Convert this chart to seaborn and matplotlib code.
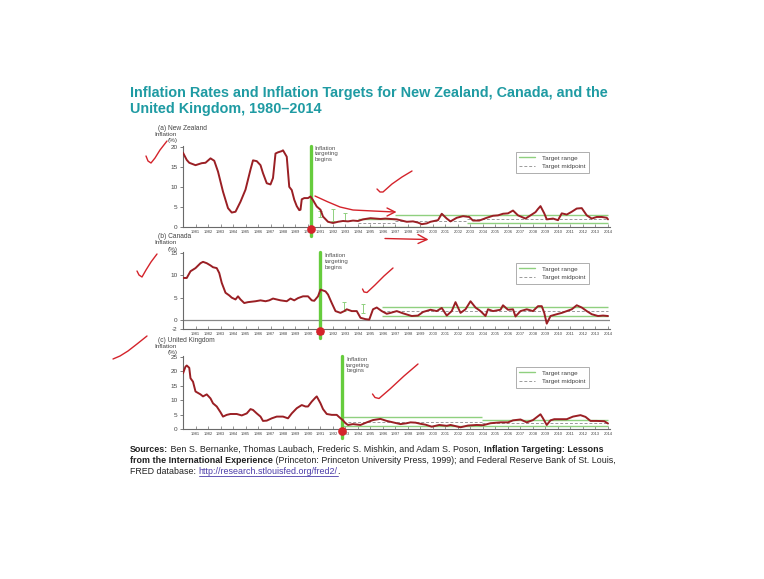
import numpy as np
import pandas as pd
import matplotlib
matplotlib.use("Agg")
import matplotlib.pyplot as plt
import seaborn as sns
from matplotlib.lines import Line2D

sns.set_theme(style="white")
plt.rcParams['font.family'] = ['Liberation Sans', 'DejaVu Sans']

# ---------------- data ----------------
nz_year = [1980.0, 1980.3, 1980.5, 1981.0, 1981.5, 1981.8, 1982.2, 1982.5, 1982.8, 1983.2,
           1983.6, 1983.9, 1984.2, 1984.6, 1985.0, 1985.4, 1985.6, 1985.9, 1986.2, 1986.4,
           1986.7, 1987.0, 1987.2, 1987.4, 1987.6, 1987.9, 1988.0, 1988.3, 1988.5, 1988.7,
           1988.9, 1989.1, 1989.3, 1989.4, 1989.5, 1989.7, 1990.0, 1990.2, 1990.4, 1990.7,
           1991.0, 1991.2, 1991.6, 1992.0, 1992.4, 1992.8, 1993.2, 1993.6, 1994.0, 1994.4,
           1995.0, 1995.4, 1995.8, 1996.2, 1996.6, 1997.1, 1997.5, 1997.9, 1998.4, 1998.8,
           1999.1, 1999.5, 1999.8, 2000.4, 2000.7, 2001.1, 2001.4, 2001.9, 2002.4, 2002.9,
           2003.2, 2003.7, 2004.3, 2004.8, 2005.2, 2005.6, 2006.0, 2006.4, 2006.8, 2007.4,
           2007.8, 2008.2, 2008.4, 2008.6, 2008.9, 2009.1, 2009.6, 2010.0, 2010.3, 2010.7,
           2011.1, 2011.5, 2011.9, 2012.3, 2012.7, 2013.1, 2013.5, 2013.9, 2014.0]
nz_infl = [18.5, 16.7, 16.0, 15.4, 15.9, 16.0, 17.1, 16.5, 13.8, 8.8,
           4.7, 3.6, 3.8, 6.3, 9.3, 14.3, 16.6, 16.4, 15.4, 13.4,
           10.9, 10.6, 12.2, 18.3, 18.6, 18.9, 19.1, 17.5, 10.0, 9.2,
           6.8, 5.2, 4.2, 4.3, 6.9, 7.2, 7.2, 7.6, 6.7, 5.1,
           4.3, 2.6, 1.3, 1.0, 1.3, 1.5, 1.4, 1.6, 1.5, 1.9,
           2.2, 2.1, 2.0, 2.1, 2.0, 1.9, 1.6, 1.3, 1.4, 1.1,
           0.7, 0.9, 1.3, 1.7, 3.3, 2.1, 1.4, 2.3, 2.7, 2.5,
           1.6, 1.6, 2.3, 2.8, 2.9, 3.3, 3.4, 4.1, 2.9, 2.1,
           2.9, 3.7, 4.5, 5.2, 3.4, 1.9, 2.1, 1.7, 3.4, 3.1,
           3.8, 4.6, 4.7, 2.9, 2.1, 2.5, 2.5, 2.3, 1.9]

ca_year = [1980.0, 1980.3, 1980.6, 1981.0, 1981.4, 1981.6, 1981.9, 1982.2, 1982.4, 1982.7,
           1982.9, 1983.1, 1983.4, 1983.7, 1983.9, 1984.2, 1984.4, 1984.6, 1984.9, 1985.2,
           1985.8, 1986.2, 1986.6, 1986.9, 1987.2, 1987.8, 1988.3, 1988.6, 1988.9, 1989.2,
           1989.6, 1990.0, 1990.3, 1990.5, 1990.8, 1991.0, 1991.4, 1991.6, 1991.9, 1992.2,
           1992.6, 1992.9, 1993.1, 1993.5, 1993.9, 1994.2, 1994.6, 1994.9, 1995.2, 1995.5,
           1995.9, 1996.3, 1996.6, 1997.1, 1997.6, 1998.3, 1998.8, 1999.2, 1999.8, 2000.3,
           2000.7, 2001.1, 2001.5, 2001.8, 2002.2, 2002.6, 2003.0, 2003.4, 2003.8, 2004.2,
           2004.4, 2004.8, 2005.4, 2005.6, 2006.0, 2006.4, 2006.6, 2007.0, 2007.5, 2008.0,
           2008.4, 2008.7, 2008.9, 2009.1, 2009.4, 2009.9, 2010.3, 2010.7, 2011.1, 2011.5,
           2011.9, 2012.3, 2012.7, 2013.2, 2013.6, 2014.0]
ca_infl = [9.4, 9.4, 10.9, 11.6, 12.7, 13.0, 12.7, 12.2, 11.8, 11.6,
           10.5, 8.3, 6.1, 5.5, 5.0, 4.6, 5.3, 4.6, 3.8, 4.0,
           4.2, 4.4, 4.2, 4.4, 4.8, 4.4, 4.2, 4.8, 4.4, 4.9,
           5.3, 5.3, 4.4, 4.3, 5.3, 6.8, 6.4, 5.7, 3.8, 2.0,
           1.6, 2.0, 2.4, 2.0, 2.0, 0.5, 0.2, 0.1, 2.4, 2.8,
           2.0, 1.4, 1.6, 2.0, 1.5, 0.9, 1.0, 1.8, 2.3, 2.0,
           2.7, 1.0, 2.0, 4.0, 1.6, 2.4, 4.2, 2.8, 2.0, 0.9,
           2.4, 2.0, 2.3, 3.3, 2.3, 2.4, 0.8, 2.0, 2.4, 2.0,
           3.1, 3.1, 1.6, -0.8, 0.9, 1.3, 1.6, 2.0, 2.4, 3.3,
           2.8, 2.0, 1.3, 0.9, 1.0, 0.9]

uk_year = [1980.0, 1980.2, 1980.3, 1980.5, 1980.6, 1980.8, 1981.0, 1981.4, 1981.6, 1981.9,
           1982.2, 1982.4, 1982.7, 1983.0, 1983.2, 1983.5, 1983.8, 1984.3, 1984.7, 1985.1,
           1985.4, 1985.6, 1985.9, 1986.2, 1986.4, 1986.7, 1987.1, 1987.5, 1988.0, 1988.4,
           1988.7, 1989.1, 1989.5, 1989.8, 1990.0, 1990.3, 1990.6, 1990.7, 1991.0, 1991.2,
           1991.5, 1991.9, 1992.3, 1992.5, 1992.8, 1993.0, 1993.2, 1993.6, 1994.2, 1994.7,
           1995.2, 1995.8, 1996.3, 1996.8, 1997.4, 1997.9, 1998.2, 1998.6, 1999.0, 1999.4,
           1999.9, 2000.5, 2001.1, 2001.4, 2002.2, 2002.8, 2003.5, 2004.0, 2004.6, 2005.4,
           2006.0, 2006.4, 2007.0, 2007.5, 2008.0, 2008.6, 2008.8, 2009.1, 2009.4, 2009.7,
           2010.2, 2010.7, 2011.2, 2011.8, 2012.2, 2012.6, 2013.1, 2013.7, 2014.0]
uk_infl = [19.3, 21.6, 22.0, 21.2, 17.6, 16.4, 13.0, 12.0, 11.3, 12.0,
           10.6, 8.9, 7.8, 5.8, 4.3, 4.9, 5.2, 5.2, 4.7, 5.4,
           6.9, 6.6, 5.4, 4.3, 2.8, 2.9, 3.7, 4.3, 4.3, 3.7,
           5.4, 7.2, 8.3, 7.8, 7.8, 9.5, 10.9, 11.3, 8.9, 6.9,
           5.2, 4.9, 4.9, 4.1, 3.0, 2.0, 1.4, 1.7, 1.4, 2.3,
           3.1, 3.5, 2.8, 2.3, 1.7, 2.0, 2.3, 2.2, 1.8, 1.5,
           0.8, 1.4, 1.1, 1.4, 0.6, 1.2, 1.4, 1.3, 2.0, 2.3,
           2.3, 3.0, 3.3, 2.3, 3.1, 5.1, 3.7, 1.4, 3.0, 3.4,
           3.4, 3.4, 4.3, 4.8, 4.2, 2.8, 2.8, 2.7, 1.9]

# target regimes: start, end, low, high
nz_band_start = [1994.0, 1997.0, 2002.7]
nz_band_end = [1997.0, 2002.7, 2014.0]
nz_band_low = [0.0, 0.0, 1.0]
nz_band_high = [2.0, 3.0, 3.0]
nz_bar_year = [1991.0, 1992.0, 1993.0]
nz_bar_low = [2.5, 1.5, 1.5]
nz_bar_high = [4.0, 4.5, 3.5]

ca_band_start = [1995.9]
ca_band_end = [2014.0]
ca_band_low = [1.0]
ca_band_high = [3.0]
ca_bar_year = [1992.9, 1994.4]
ca_bar_low = [2.0, 1.5]
ca_bar_high = [4.0, 3.5]

uk_band_start = [1992.8, 2003.9]
uk_band_end = [2003.9, 2014.0]
uk_band_low = [1.0, 1.0]
uk_band_high = [4.0, 3.0]
uk_bar_year = []
uk_bar_low = []
uk_bar_high = []

start_year = {"nz": 1990.2, "ca": 1991.0, "uk": 1992.75}
year_labels = list(range(1981, 2015))

# ---------------- figure ----------------
W, H = 764, 579
fig = plt.figure(figsize=(W / 100, H / 100), dpi=100)
fig.patch.set_facecolor("white")

LINE_RED = "#9a1f24"
RANGE_GREEN = "#8fd07f"
START_GREEN = "#66cc3d"
MID_GREY = "#9a9a9a"
AXIS_GREY = "#6a6a6a"
TEXT_GREY = "#444444"
INK_RED = "#d4232b"


def px_axes(left, top, right, bottom):
    return fig.add_axes([left / W, 1 - bottom / H, (right - left) / W, (bottom - top) / H])


def fx(x):
    return x / W


def fy(y):
    return 1 - y / H


panels = [
    dict(key="nz", box=(183, 145.5, 610, 227), ylim=(0, 20.3), yticks=[0, 5, 10, 15, 20],
         year=nz_year, infl=nz_infl,
         band=(nz_band_start, nz_band_end, nz_band_low, nz_band_high),
         bars=(nz_bar_year, nz_bar_low, nz_bar_high),
         label=["(a) New Zealand", "Inflation", "(%)"], label_y=[130, 135.5, 142],
         note_y=[150.5, 155.5, 160.5], leg_top=152),
    dict(key="ca", box=(183, 252, 610, 329), ylim=(-2, 15.2), yticks=[-2, 0, 5, 10, 15],
         year=ca_year, infl=ca_infl,
         band=(ca_band_start, ca_band_end, ca_band_low, ca_band_high),
         bars=(ca_bar_year, ca_bar_low, ca_bar_high),
         label=["(b) Canada", "Inflation", "(%)"], label_y=[238, 244.5, 250.5],
         note_y=[257, 263, 269], leg_top=263),
    dict(key="uk", box=(183, 356, 610, 429), ylim=(0, 25.3), yticks=[0, 5, 10, 15, 20, 25],
         year=uk_year, infl=uk_infl,
         band=(uk_band_start, uk_band_end, uk_band_low, uk_band_high),
         bars=(uk_bar_year, uk_bar_low, uk_bar_high),
         label=["(c) United Kingdom", "Inflation", "(%)"], label_y=[342.5, 348.5, 354],
         note_y=[361, 366.5, 372], leg_top=367),
]

for p in panels:
    left, top, right, bottom = p["box"]
    ax = px_axes(left, top, right, bottom)
    ax.set_facecolor("none")
    ax.set_xlim(1980, 2014.16)
    ax.set_ylim(*p["ylim"])

    # target ranges and midpoints
    s, e, lo, hi = p["band"]
    for a, b, l, h in zip(s, e, lo, hi):
        ax.hlines([l, h], a, b, color=RANGE_GREEN, lw=1.0, zorder=2)
        ax.hlines((l + h) / 2, a, b, color=MID_GREY, lw=0.7, linestyles=(0, (3, 2)), zorder=2)
    by, bl, bh = p["bars"]
    if by:
        by = np.array(by); bl = np.array(bl); bh = np.array(bh)
        ax.errorbar(by, (bl + bh) / 2, yerr=(bh - bl) / 2, fmt="none", ecolor=RANGE_GREEN,
                    elinewidth=0.7, capsize=1.5, capthick=0.7, zorder=2)

    if p["key"] == "ca":
        ax.axhline(0, color="#888888", lw=0.9, zorder=1)

    # start of inflation targeting
    sy = start_year[p["key"]]
    ax.axvline(sy, ymin=-9 / (bottom - top), ymax=1, color=START_GREEN, lw=2.4,
               clip_on=False, zorder=3)

    df = pd.DataFrame({"year": p["year"], "inflation": p["infl"]})
    sns.lineplot(data=df, x="year", y="inflation", ax=ax, color=LINE_RED, lw=1.4,
                 estimator=None, sort=False, zorder=4)
    ax.set_xlabel("")
    ax.set_ylabel("")

    for side in ["top", "right"]:
        ax.spines[side].set_visible(False)
    for side in ["left", "bottom"]:
        ax.spines[side].set_color(AXIS_GREY)
        ax.spines[side].set_linewidth(0.8)

    ax.set_yticks(p["yticks"])
    ax.set_yticklabels([str(v) for v in p["yticks"]])
    ax.set_xticks(year_labels)
    ax.set_xticklabels([str(y) for y in year_labels])
    ax.tick_params(axis="y", direction="out", length=2.5, width=0.6, color=AXIS_GREY,
                   labelsize=4.6, labelcolor=TEXT_GREY, pad=1.5, left=True)
    ax.tick_params(axis="x", direction="in", length=2.5, width=0.5, color=AXIS_GREY,
                   labelsize=3.0, labelcolor=TEXT_GREY, pad=2.0, bottom=True)
    ax.grid(False)

    # legend
    handles = [Line2D([], [], color=RANGE_GREEN, lw=1.0),
               Line2D([], [], color=MID_GREY, lw=0.7, ls=(0, (3, 2)))]
    leg = ax.legend(handles, ["Target range", "Target midpoint"], loc="upper right",
                    bbox_to_anchor=((589 - left) / (right - left), (bottom - p["leg_top"]) / (bottom - top)),
                    fontsize=4.6, frameon=True, fancybox=False, edgecolor="#8a8a8a",
                    handlelength=2.4, handletextpad=1.2, borderpad=0.5, labelspacing=0.5,
                    borderaxespad=0)
    leg.get_frame().set_linewidth(0.6)
    for t in leg.get_texts():
        t.set_color(TEXT_GREY)

    # panel label and axis title
    fig.text(fx(158), fy(p["label_y"][0]), p["label"][0], fontsize=4.8, color=TEXT_GREY, va="baseline")
    fig.text(fx(154), fy(p["label_y"][1]), p["label"][1], fontsize=4.6, color=TEXT_GREY, va="baseline")
    fig.text(fx(168), fy(p["label_y"][2]), p["label"][2], fontsize=4.6, color=TEXT_GREY, va="baseline")

    # note next to the start line
    note_x = left + (sy - 1980) / (2014.16 - 1980) * (right - left) + 4
    for line, yy in zip(["Inflation", "targeting", "begins"], p["note_y"]):
        fig.text(fx(note_x), fy(yy), line, fontsize=4.4, color="#555555", va="baseline")

    # red marker where targeting starts
    dot_x = note_x - 4
    fig.add_artist(Line2D([fx(dot_x)], [fy(bottom + 2)], marker="o", markersize=5.2,
                          color=INK_RED, transform=fig.transFigure, zorder=10))

# ---------------- title ----------------
TEAL = "#1f9ba3"
fig.text(fx(130), fy(97), "Inflation Rates and Inflation Targets for New Zealand, Canada, and the",
         fontsize=10.35, fontweight="bold", color=TEAL, va="baseline")
fig.text(fx(130), fy(113), "United Kingdom, 1980\u20132014",
         fontsize=10.35, fontweight="bold", color=TEAL, va="baseline")

# ---------------- sources ----------------
renderer = fig.canvas.get_renderer()


def rich_line(x_px, y_px, runs, size=6.4):
    x = x_px
    for text, weight, color, underline in runs:
        t = fig.text(fx(x), fy(y_px), text, fontsize=size, fontweight=weight, color=color,
                     va="baseline", ha="left")
        bb = t.get_window_extent(renderer=renderer)
        if underline:
            fig.add_artist(Line2D([fx(x), fx(x + bb.width)], [fy(y_px + 1.3)] * 2, color=color,
                                  lw=0.6, transform=fig.transFigure))
        x += bb.width


INK = "#222222"
LINK = "#4a3aa8"
rich_line(130, 451.5, [("Sources:", "bold", INK, False),
                       (" Ben S. Bernanke, Thomas Laubach, Frederic S. Mishkin, and Adam S. Poson, ", "normal", INK, False),
                       ("Inflation Targeting: Lessons", "bold", INK, False)])
rich_line(130, 463, [("from the International Experience", "bold", INK, False),
                     (" (Princeton: Princeton University Press, 1999); and Federal Reserve Bank of St. Louis,", "normal", INK, False)])
rich_line(130, 474.5, [("FRED database: ", "normal", INK, False),
                       ("http://research.stlouisfed.org/fred2/", "normal", LINK, True),
                       (".", "normal", INK, False)])

# ---------------- hand-drawn annotations ----------------
strokes = [
    [(146, 156), (148, 161), (151, 163), (155, 158), (160, 150), (167, 141)],
    [(137, 271), (139, 275), (142, 277), (146, 270), (151, 262), (157, 254)],
    [(113, 359), (120, 356), (128, 351), (137, 344), (147, 336)],
    [(315, 196), (327, 201.5), (340, 207), (353, 210), (373, 211), (395, 212)],
    [(387, 208), (395, 212), (387, 216)],
    [(385, 238.5), (427, 239.5)],
    [(418, 234.5), (427, 239.5), (418, 243.5)],
    [(377, 189), (380, 192), (383, 192), (392, 184), (402, 177), (412, 171)],
    [(362.5, 289), (364, 292), (367, 292.5), (375, 285), (384, 276), (393, 268)],
    [(372.5, 394), (375, 397.5), (379, 398.5), (390, 389), (404, 376), (418, 364)],
]
for st in strokes:
    xs = [fx(a) for a, b in st]
    ys = [fy(b) for a, b in st]
    fig.add_artist(Line2D(xs, ys, color=INK_RED, lw=1.0, solid_capstyle="round",
                          solid_joinstyle="round", transform=fig.transFigure, zorder=10))

fig.savefig("out.png", dpi=100, facecolor="white")
